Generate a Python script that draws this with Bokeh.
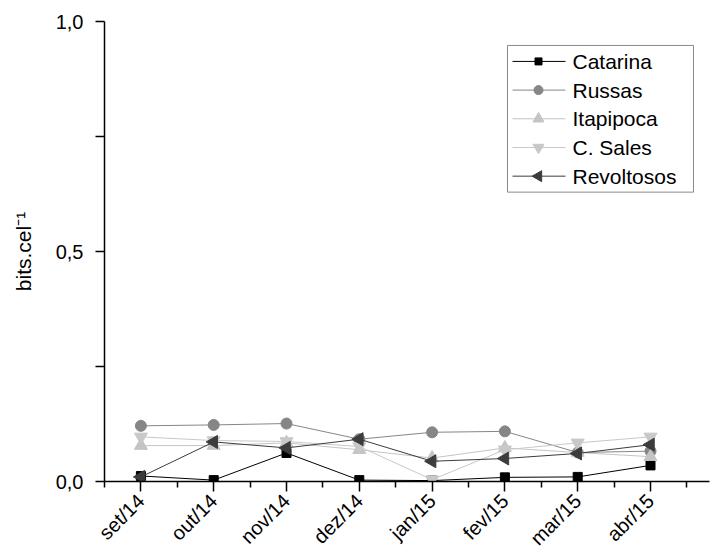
import math
from bokeh.plotting import figure
from bokeh.models import FixedTicker, Range1d
from bokeh.core.properties import value
from bokeh.embed import file_html
from bokeh.resources import INLINE

months = ["set/14", "out/14", "nov/14", "dez/14", "jan/15", "fev/15", "mar/15", "abr/15"]
catarina = [0.012, 0.003, 0.062, 0.003, 0.002, 0.009, 0.010, 0.035]
russas = [0.121, 0.123, 0.126, 0.092, 0.107, 0.109, 0.063, 0.066]
itapipoca = [0.078, 0.078, 0.084, 0.069, 0.051, 0.073, 0.063, 0.054]
csales = [0.097, 0.089, 0.087, 0.076, 0.004, 0.069, 0.084, 0.097]
revoltosos = [0.010, 0.086, 0.073, 0.092, 0.044, 0.050, 0.061, 0.080]

series_names = ["Catarina", "Russas", "Itapipoca", "C. Sales", "Revoltosos"]
series_values = [catarina, russas, itapipoca, csales, revoltosos]
series_colors = ["#000000", "#868686", "#c4c4c4", "#c8c8c8", "#3c3c3c"]
series_markers = ["square", "circle", "triangle", "inverted_triangle", "triangle"]
series_sizes = [9, 11, 13, 13, 13]
series_angles = [0, 0, 0, 0, math.pi / 2]

xs = list(range(len(months)))
FONT = "Liberation Sans"

W, H = 711, 560
BL, BR, BT, BB = 104, 2, 21, 78
FW, FH = W - BL - BR, H - BT - BB

p = figure(width=W, height=H, output_backend="svg", toolbar_location=None,
           x_range=Range1d(-0.5, -0.5 + FW / 72.8), y_range=Range1d(0, 1.0),
           min_border_left=BL, min_border_right=BR, min_border_top=BT, min_border_bottom=BB)
p.outline_line_color = None
p.grid.visible = False

# pixel-unit ranges for the hand-made legend
p.extra_x_ranges = {"px": Range1d(0, FW)}
p.extra_y_ranges = {"px": Range1d(0, FH)}

p.xaxis.ticker = FixedTicker(ticks=xs, minor_ticks=[i + 0.5 for i in range(-1, 8)])
p.xaxis.major_label_overrides = {i: m for i, m in enumerate(months)}
p.xaxis.major_label_orientation = math.pi / 4
p.yaxis.ticker = FixedTicker(ticks=[0, 0.5, 1.0], minor_ticks=[0.25, 0.75])
p.yaxis.major_label_overrides = {0: "0,0", 0.5: "0,5", 1: "1,0"}
for ax in (p.xaxis[0], p.yaxis[0]):
    ax.axis_line_width = 1.5
    ax.axis_line_color = "black"
    ax.major_tick_line_color = "black"
    ax.minor_tick_line_color = "black"
    ax.major_tick_line_width = 1.5
    ax.minor_tick_line_width = 1.5
    ax.major_tick_in = 0
    ax.minor_tick_in = 0
    ax.major_label_text_font = FONT
    ax.major_label_text_color = "black"
    ax.major_label_text_font_size = "20px"
    ax.axis_label_text_font = FONT
    ax.axis_label_text_font_style = "normal"
    ax.axis_label_text_color = "black"
p.xaxis.major_tick_out = 10
p.xaxis.minor_tick_out = 6
p.yaxis.major_tick_out = 9
p.yaxis.minor_tick_out = 9
p.yaxis.major_label_standoff = 12
p.xaxis.major_label_standoff = 6
p.yaxis.axis_label = "bits.cel\u207b\u00b9"
p.yaxis.axis_label_text_font_size = "21px"
p.yaxis.axis_label_standoff = 18

for name, vals, color, marker, size, ang in zip(series_names, series_values, series_colors,
                                               series_markers, series_sizes, series_angles):
    p.line(xs, vals, line_color=color, line_width=1)
    p.scatter(xs, vals, marker=marker, size=size, angle=ang,
              fill_color=color, line_color=color)

# legend (drawn by hand so the Revoltosos triangle can point left)
n = len(series_names)
row_y = [421 - i * 28.75 for i in range(n)]
p.quad(left=[403], right=[589], bottom=[290], top=[437], fill_color="white",
       line_color="#8a8a8a", line_width=1, x_range_name="px", y_range_name="px")
p.segment(x0=[408] * n, x1=[461] * n, y0=row_y, y1=row_y, line_color=series_colors,
          line_width=1, x_range_name="px", y_range_name="px")
p.scatter(x=[434] * n, y=row_y, marker=series_markers,
          size=[s - 2 for s in series_sizes], angle=series_angles,
          fill_color=series_colors, line_color=series_colors,
          x_range_name="px", y_range_name="px")
p.text(x=[468] * n, y=row_y, text=series_names, text_font=value(FONT),
       text_font_size="21px", text_baseline="middle", text_color="black",
       x_range_name="px", y_range_name="px")

open("out.html", "w").write(file_html(p, INLINE))
